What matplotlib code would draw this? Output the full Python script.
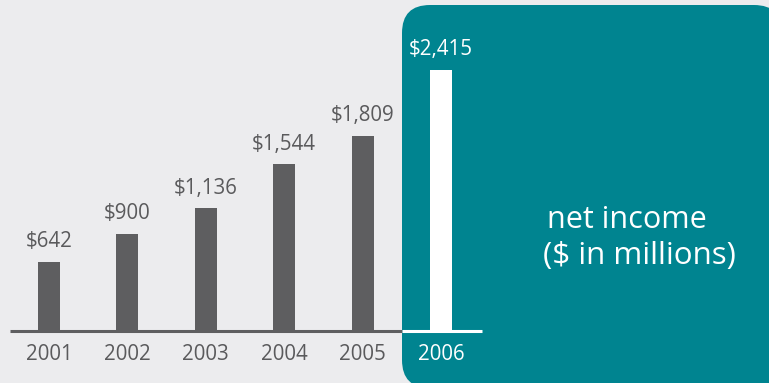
import numpy as np
import matplotlib
matplotlib.use('Agg')
from matplotlib import pyplot as plt
from matplotlib.patches import FancyBboxPatch

years = ['2001', '2002', '2003', '2004', '2005', '2006']
income = [642, 900, 1136, 1544, 1809, 2415]
labels = ['$642', '$900', '$1,136', '$1,544', '$1,809', '$2,415']

bg = '#ececee'
teal = '#008490'
bar_gray = '#5e5e60'
txt_gray = '#5a5a5c'

plt.rcParams['font.family'] = ['Open Sans', 'DejaVu Sans']

fig = plt.figure(figsize=(7.69, 3.83), dpi=100)
fig.patch.set_facecolor(bg)

# background panel in pixel coords
ax_bg = fig.add_axes([0, 0, 1, 1])
ax_bg.set_xlim(0, 769)
ax_bg.set_ylim(383, 0)
ax_bg.axis('off')
panel = FancyBboxPatch((402, 5), 380, 383, boxstyle='round,pad=0,rounding_size=28',
                       facecolor=teal, edgecolor='none')
ax_bg.add_patch(panel)

# chart axes
ax = fig.add_axes([0, 0, 1, 1])
ax.patch.set_alpha(0)
ax.set_xlim(-0.625, 9.184)
ax.set_ylim(-481, 3063)
ax.axis('off')

x = np.arange(len(years))
colors = [bar_gray] * (len(years) - 1) + ['white']
ax.bar(x, income, width=0.28, color=colors, zorder=2)

ax.plot([-0.5, 4.5], [0, 0], color=bar_gray, lw=2.2, solid_capstyle='butt', zorder=3)
ax.plot([4.5, 5.52], [0, 0], color='white', lw=2.2, solid_capstyle='butt', zorder=3)

for i in range(len(years)):
    c = 'white' if i == len(years) - 1 else txt_gray
    ax.annotate(labels[i], (x[i], income[i]), xytext=(0, 10.5), textcoords='offset points',
                ha='center', va='baseline', fontsize=14.8, color=c)
    ax.annotate(years[i], (x[i], 0), xytext=(0, -21), textcoords='offset points',
                ha='center', va='baseline', fontsize=14.8, color=c)

ax_bg.text(547, 228, 'net income', fontsize=22, color='white', ha='left', va='baseline')
ax_bg.text(543, 264, '($ in millions)', fontsize=22.5, color='white', ha='left', va='baseline')

fig.savefig('out.png', dpi=100, facecolor=bg)
